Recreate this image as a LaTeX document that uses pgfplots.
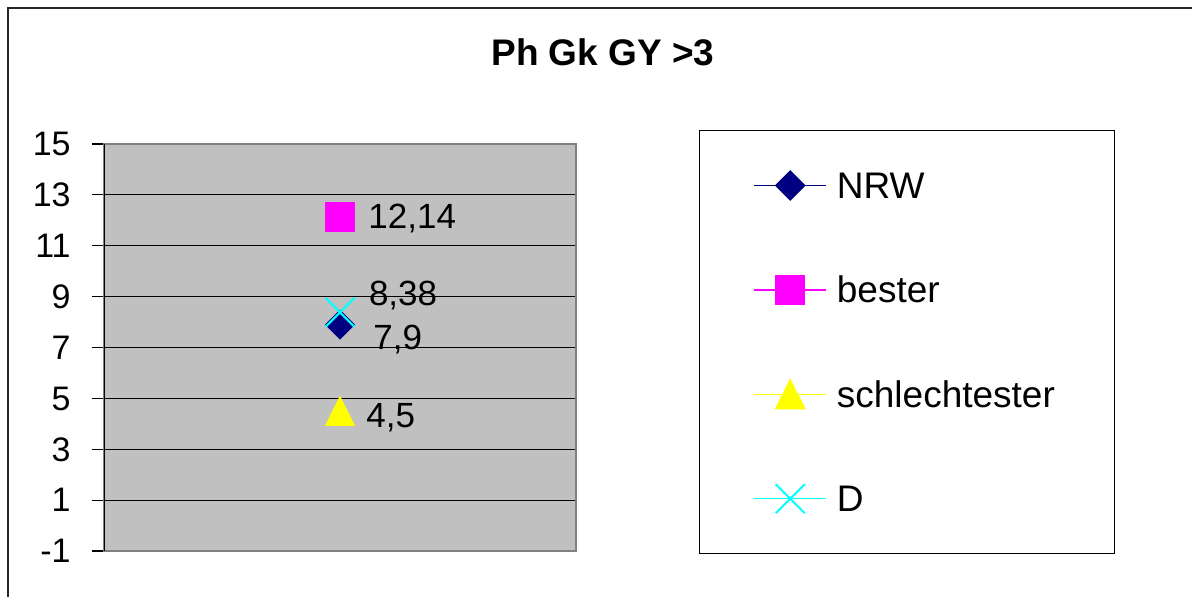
\documentclass[border=0pt]{standalone}
\usepackage{fontspec}
\setmainfont{Liberation Sans}
\usepackage{pgfplots}
\pgfplotsset{compat=1.18}
\definecolor{xlnavy}{HTML}{000080}
\definecolor{xlmagenta}{HTML}{FF00FF}
\definecolor{xlyellow}{HTML}{FFFF00}
\definecolor{xlcyan}{HTML}{00FFFF}
\definecolor{xlgray}{HTML}{C0C0C0}
\definecolor{xlborder}{HTML}{808080}
% 1 px of the reference = 0.5pt
\begin{document}
\begin{tikzpicture}
\useasboundingbox (0,0) rectangle (596pt,-298.5pt);
\draw[line width=1pt, black!85] (4pt,-310pt) -- (4pt,-4pt) -- (610pt,-4pt);
\node[font=\fontsize{18.5}{20}\selectfont\bfseries] at (301.5pt,-26pt) {Ph Gk GY >3};
\begin{axis}[
  at={(52pt,-275.5pt)}, anchor=south west,
  scale only axis, width=236pt, height=203.5pt,
  xmin=0, xmax=2, ymin=-1, ymax=15,
  xtick=\empty,
  ytick={-1,1,3,5,7,9,11,13,15},
  yticklabels={-1,1,3,5,7,9,11,13,15},
  yticklabel style={font=\fontsize{17}{19}\selectfont, inner sep=0pt, text depth=0pt, xshift=-10.5pt},
  tick align=outside, major tick length=6pt,
  ytick pos=left,
  tick style={black, line width=0.6pt},
  ymajorgrids, grid style={black, line width=0.6pt},
  axis background/.style={fill=xlgray},
  axis line style={xlborder, line width=0.8pt},
  legend image code/.code={\draw[mark repeat=2,mark phase=2,line width=0.7pt,#1] plot coordinates {(0pt,0pt) (18pt,0pt) (36pt,0pt)};},
  legend cell align=left,
  legend style={
    at={(1.2606,1.0344)}, anchor=north west,
    draw=black, line width=0.5pt, fill=white,
    inner xsep=27pt, inner ysep=17.5pt,
    row sep=32.2pt, column sep=5pt,
    font=\fontsize{18.5}{20}\selectfont,
    nodes={inner sep=0pt, text height=16.5pt, text depth=3.5pt, text width=112pt, align=left},
  },
  every node near coord/.append style={anchor=west, inner sep=0pt, text depth=0pt, font=\fontsize{17.5}{19}\selectfont, black},
]
\addplot[xlnavy, mark=square*, mark size=5.1pt, mark options={rotate=45},
  nodes near coords={7,9}, every node near coord/.append style={xshift=16.5pt, yshift=-6.5pt}]
  coordinates {(1,7.9)};
\addlegendentry{NRW}
\addplot[xlmagenta, mark=square*, mark size=7.25pt,
  nodes near coords={12,14}, every node near coord/.append style={xshift=14pt}]
  coordinates {(1,12.14)};
\addlegendentry{bester}
\addplot[xlyellow, mark=triangle*, mark size=8.4pt, mark options={yscale=1.15, yshift=-2.1pt},
  nodes near coords={4,5}, every node near coord/.append style={xshift=13pt}]
  coordinates {(1,4.5)};
\addlegendentry{schlechtester}
\addplot[xlcyan, mark=x, mark size=10.25pt, mark options={line width=1pt},
  nodes near coords={8,38}, every node near coord/.append style={xshift=14pt, yshift=9.75pt}]
  coordinates {(1,8.38)};
\addlegendentry{D}
\draw[black, line width=0.8pt] (rel axis cs:0,0) -- (rel axis cs:0,1);
\end{axis}
\end{tikzpicture}
\end{document}
